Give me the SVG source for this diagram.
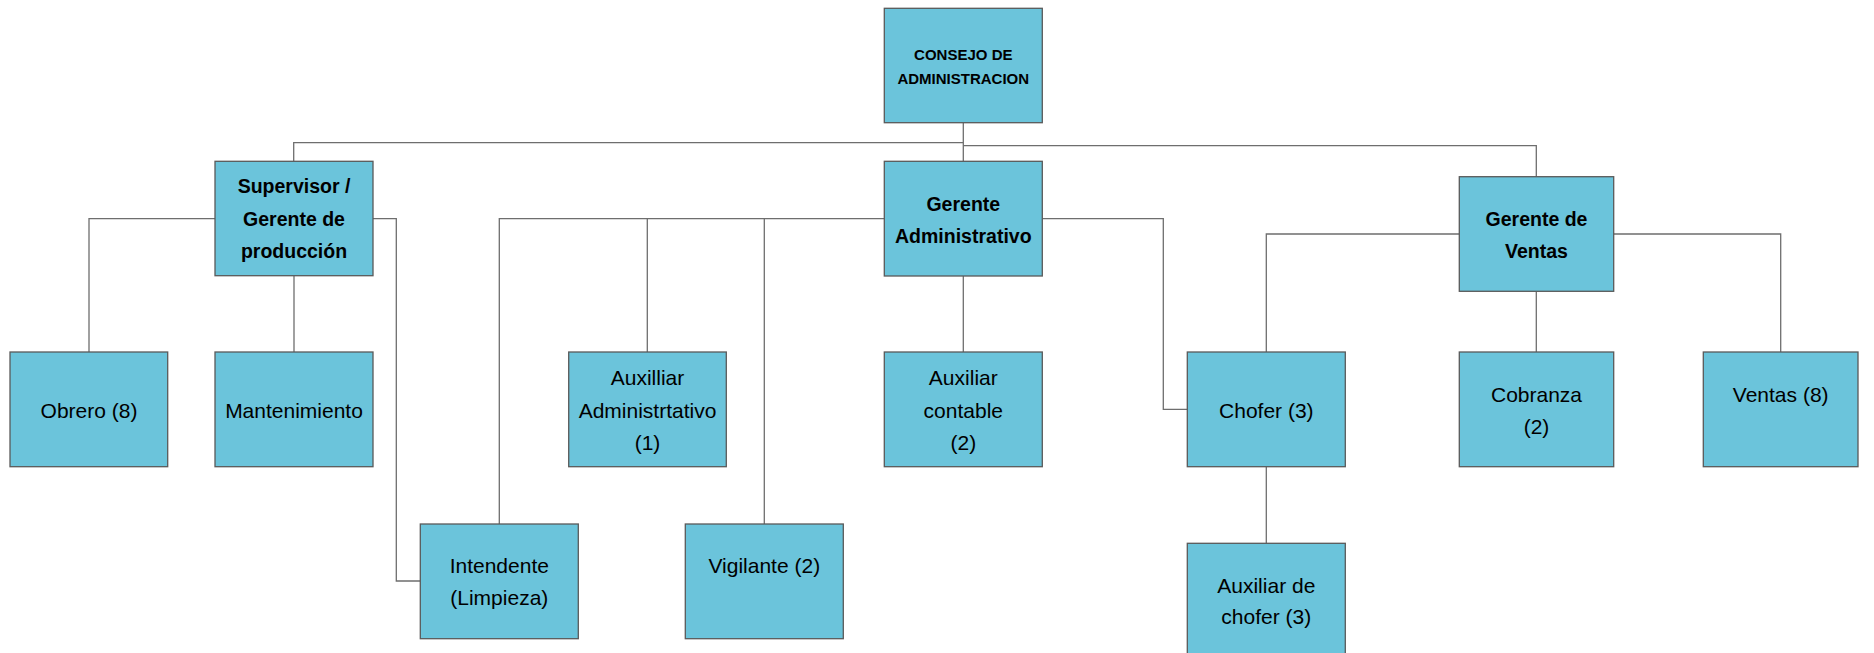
<svg xmlns="http://www.w3.org/2000/svg" width="1874" height="653" viewBox="0 0 1874 653">
<style>
.box{fill:#6BC4DB;stroke:#5a5a5a;stroke-width:1.3}
.t{font-family:"Liberation Sans",Arial,sans-serif;font-size:21px;fill:#000;text-anchor:middle}
.b{font-weight:bold;font-size:19.5px}
.s{font-weight:bold;font-size:15px}
.c{fill:none;stroke:#6e6e6e;stroke-width:1.3}
</style>
<rect width="1874" height="653" fill="#fff"/>
<g id="connectors" class="c">
<path d="M963.3 122.7 V161.3"/>
<path d="M963.3 142.7 H293.7 V161.3"/>
<path d="M963.3 145.7 H1536.3 V176.7"/>
<path d="M215 218.7 H89 V352"/>
<path d="M294 275.7 V352"/>
<path d="M373 218.7 H396.3 V581 H420.3"/>
<path d="M884.3 218.7 H499.3 V524"/>
<path d="M647.3 218.7 V352"/>
<path d="M764.3 218.7 V524"/>
<path d="M963.3 276 V352"/>
<path d="M1042.3 218.7 H1163.3 V409.3 H1187.3"/>
<path d="M1459.3 234 H1266.3 V352"/>
<path d="M1266.3 466.7 V543.3"/>
<path d="M1536.3 291.3 V352"/>
<path d="M1613.7 234 H1780.7 V352"/>
</g>
<g id="consejo"><rect class="box" x="884.3" y="8.3" width="158" height="114.4"/>
<text class="t s" x="963.3" y="60">CONSEJO DE</text><text class="t s" x="963.3" y="84.3">ADMINISTRACION</text></g>
<g id="supervisor"><rect class="box" x="215" y="161.3" width="158" height="114.4"/>
<text class="t b" x="294" y="193.3">Supervisor /</text><text class="t b" x="294" y="226">Gerente de</text><text class="t b" x="294" y="258.3">producción</text></g>
<g id="gerente-admin"><rect class="box" x="884.3" y="161.3" width="158" height="114.7"/>
<text class="t b" x="963.3" y="211">Gerente</text><text class="t b" x="963.3" y="242.7">Administrativo</text></g>
<g id="gerente-ventas"><rect class="box" x="1459.3" y="176.7" width="154.4" height="114.6"/>
<text class="t b" x="1536.5" y="226">Gerente de</text><text class="t b" x="1536.5" y="257.7">Ventas</text></g>
<g id="obrero"><rect class="box" x="10" y="352" width="157.7" height="114.7"/>
<text class="t" x="89" y="417.7">Obrero (8)</text></g>
<g id="mantenimiento"><rect class="box" x="215" y="352" width="158" height="114.7"/>
<text class="t" x="294" y="417.7">Mantenimiento</text></g>
<g id="aux-admin"><rect class="box" x="568.7" y="352" width="157.6" height="114.7"/>
<text class="t" x="647.5" y="385">Auxilliar</text><text class="t" x="647.5" y="417.7">Administrtativo</text><text class="t" x="647.5" y="450">(1)</text></g>
<g id="aux-contable"><rect class="box" x="884.3" y="352" width="158" height="114.7"/>
<text class="t" x="963.3" y="385">Auxiliar</text><text class="t" x="963.3" y="417.7">contable</text><text class="t" x="963.3" y="450">(2)</text></g>
<g id="chofer"><rect class="box" x="1187.3" y="352" width="158" height="114.7"/>
<text class="t" x="1266.3" y="417.7">Chofer (3)</text></g>
<g id="cobranza"><rect class="box" x="1459.3" y="352" width="154.4" height="114.7"/>
<text class="t" x="1536.5" y="402.3">Cobranza</text><text class="t" x="1536.5" y="434.3">(2)</text></g>
<g id="ventas"><rect class="box" x="1703.3" y="352" width="154.7" height="114.7"/>
<text class="t" x="1780.7" y="402.3">Ventas (8)</text></g>
<g id="intendente"><rect class="box" x="420.3" y="524" width="158" height="114.7"/>
<text class="t" x="499.3" y="572.7">Intendente</text><text class="t" x="499.3" y="605.3">(Limpieza)</text></g>
<g id="vigilante"><rect class="box" x="685.3" y="524" width="158" height="114.7"/>
<text class="t" x="764.3" y="572.7">Vigilante (2)</text></g>
<g id="aux-chofer"><rect class="box" x="1187.3" y="543.3" width="158" height="114.7"/>
<text class="t" x="1266.3" y="592.7">Auxiliar de</text><text class="t" x="1266.3" y="624.3">chofer (3)</text></g>
</svg>
